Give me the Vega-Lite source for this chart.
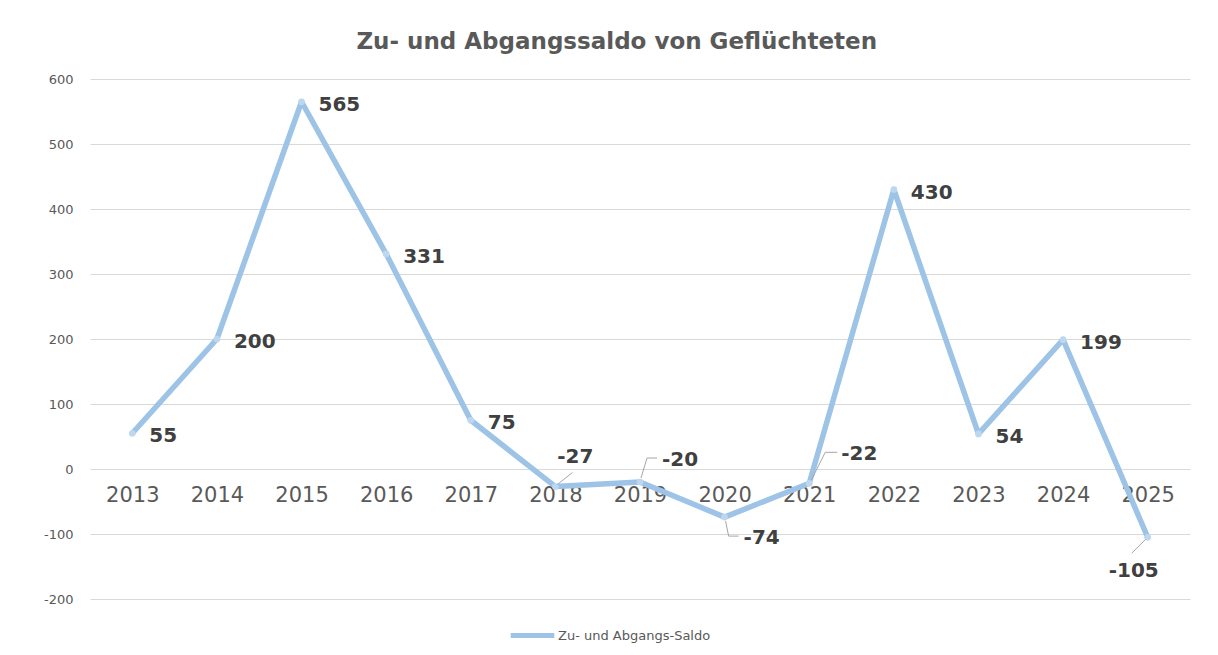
{
  "$schema": "https://vega.github.io/schema/vega-lite/v6.json",
  "width": 1100,
  "height": 520,
  "autosize": {"type": "none"},
  "padding": {"left": 90, "top": 79, "right": 28, "bottom": 56},
  "background": "white",
  "title": {
    "text": "Zu- und Abgangssaldo von Geflüchteten",
    "font": "DejaVu Sans",
    "fontSize": 23,
    "fontWeight": "bold",
    "color": "#595959",
    "anchor": "middle",
    "frame": "bounds",
    "offset": 19
  },
  "data": {
    "values": [
      {"year": "2013", "value": 55, "series": "Zu- und Abgangs-Saldo"},
      {"year": "2014", "value": 200, "series": "Zu- und Abgangs-Saldo"},
      {"year": "2015", "value": 565, "series": "Zu- und Abgangs-Saldo"},
      {"year": "2016", "value": 331, "series": "Zu- und Abgangs-Saldo"},
      {"year": "2017", "value": 75, "series": "Zu- und Abgangs-Saldo"},
      {"year": "2018", "value": -27, "series": "Zu- und Abgangs-Saldo"},
      {"year": "2019", "value": -20, "series": "Zu- und Abgangs-Saldo"},
      {"year": "2020", "value": -74, "series": "Zu- und Abgangs-Saldo"},
      {"year": "2021", "value": -22, "series": "Zu- und Abgangs-Saldo"},
      {"year": "2022", "value": 430, "series": "Zu- und Abgangs-Saldo"},
      {"year": "2023", "value": 54, "series": "Zu- und Abgangs-Saldo"},
      {"year": "2024", "value": 199, "series": "Zu- und Abgangs-Saldo"},
      {"year": "2025", "value": -105, "series": "Zu- und Abgangs-Saldo"}
    ]
  },
  "encoding": {
    "x": {
      "field": "year",
      "type": "ordinal",
      "scale": {"type": "point", "padding": 0.5},
      "axis": {
        "title": null,
        "orient": "bottom",
        "offset": -130,
        "domain": false,
        "ticks": false,
        "grid": false,
        "labelAngle": 0,
        "labelFont": "DejaVu Sans",
        "labelFontSize": 21,
        "labelColor": "#595959",
        "labelPadding": 15
      }
    },
    "y": {
      "field": "value",
      "type": "quantitative",
      "scale": {"domain": [-200, 600], "nice": false, "zero": false},
      "axis": {
        "title": null,
        "values": [-200, -100, 0, 100, 200, 300, 400, 500, 600],
        "labelExpr": "toString(datum.value)",
        "domain": false,
        "ticks": false,
        "grid": true,
        "gridColor": "#D9D9D9",
        "gridWidth": 1,
        "labelFont": "DejaVu Sans",
        "labelFontSize": 13,
        "labelColor": "#595959",
        "labelPadding": 17
      }
    }
  },
  "layer": [
    {
      "mark": {"type": "line", "strokeWidth": 5.5, "strokeCap": "round", "strokeJoin": "round"},
      "encoding": {
        "color": {
          "field": "series",
          "type": "nominal",
          "scale": {"range": ["#9DC3E6"]},
          "legend": {
            "title": null,
            "orient": "none",
            "legendX": 418,
            "legendY": 532,
            "symbolType": "stroke",
            "symbolStrokeWidth": 5,
            "symbolSize": 1900,
            "symbolStrokeColor": "#9DC3E6",
            "labelFont": "DejaVu Sans",
            "labelFontSize": 13,
            "labelColor": "#595959",
            "labelOffset": 1,
            "padding": 0
          }
        }
      }
    },
    {
      "mark": {"type": "point", "filled": true, "size": 45, "color": "#BDD7EE", "opacity": 1}
    },
    {
      "transform": [{"filter": "datum.year == '2018'"}],
      "mark": {"type": "rule", "color": "#A6A6A6", "strokeWidth": 1, "xOffset": 2, "yOffset": -2, "x2Offset": 17, "y2Offset": -14},
      "encoding": {"x2": {"field": "year"}, "y2": {"field": "value"}}
    },
    {
      "transform": [{"filter": "datum.year == '2019'"}],
      "mark": {"type": "rule", "color": "#A6A6A6", "strokeWidth": 1, "xOffset": 1, "yOffset": -4, "x2Offset": 7, "y2Offset": -24},
      "encoding": {"x2": {"field": "year"}, "y2": {"field": "value"}}
    },
    {
      "transform": [{"filter": "datum.year == '2019'"}],
      "mark": {"type": "rule", "color": "#A6A6A6", "strokeWidth": 1, "xOffset": 7, "yOffset": -24, "x2Offset": 17, "y2Offset": -24},
      "encoding": {"x2": {"field": "year"}, "y2": {"field": "value"}}
    },
    {
      "transform": [{"filter": "datum.year == '2020'"}],
      "mark": {"type": "rule", "color": "#A6A6A6", "strokeWidth": 1, "xOffset": 1, "yOffset": 4, "x2Offset": 4, "y2Offset": 19},
      "encoding": {"x2": {"field": "year"}, "y2": {"field": "value"}}
    },
    {
      "transform": [{"filter": "datum.year == '2020'"}],
      "mark": {"type": "rule", "color": "#A6A6A6", "strokeWidth": 1, "xOffset": 4, "yOffset": 19, "x2Offset": 14, "y2Offset": 19},
      "encoding": {"x2": {"field": "year"}, "y2": {"field": "value"}}
    },
    {
      "transform": [{"filter": "datum.year == '2021'"}],
      "mark": {"type": "rule", "color": "#A6A6A6", "strokeWidth": 1, "xOffset": 2, "yOffset": -3, "x2Offset": 16, "y2Offset": -31},
      "encoding": {"x2": {"field": "year"}, "y2": {"field": "value"}}
    },
    {
      "transform": [{"filter": "datum.year == '2021'"}],
      "mark": {"type": "rule", "color": "#A6A6A6", "strokeWidth": 1, "xOffset": 16, "yOffset": -31, "x2Offset": 28, "y2Offset": -31},
      "encoding": {"x2": {"field": "year"}, "y2": {"field": "value"}}
    },
    {
      "transform": [{"filter": "datum.year == '2025'"}],
      "mark": {"type": "rule", "color": "#A6A6A6", "strokeWidth": 1, "xOffset": -2, "yOffset": 2, "x2Offset": -16, "y2Offset": 16},
      "encoding": {"x2": {"field": "year"}, "y2": {"field": "value"}}
    },
    {
      "transform": [{"filter": "indexof(['2013','2014','2015','2016','2017','2022','2023','2024'], datum.year) >= 0"}],
      "mark": {"type": "text", "align": "left", "baseline": "middle", "dx": 17, "dy": 3, "font": "DejaVu Sans", "fontSize": 20, "fontWeight": "bold", "color": "#404040"},
      "encoding": {"text": {"field": "value", "type": "nominal"}}
    },
    {
      "transform": [{"filter": "datum.year == '2018'"}],
      "mark": {"type": "text", "align": "center", "baseline": "middle", "dx": 20, "dy": -30, "font": "DejaVu Sans", "fontSize": 20, "fontWeight": "bold", "color": "#404040"},
      "encoding": {"text": {"field": "value", "type": "nominal"}}
    },
    {
      "transform": [{"filter": "datum.year == '2019'"}],
      "mark": {"type": "text", "align": "left", "baseline": "middle", "dx": 22, "dy": -22, "font": "DejaVu Sans", "fontSize": 20, "fontWeight": "bold", "color": "#404040"},
      "encoding": {"text": {"field": "value", "type": "nominal"}}
    },
    {
      "transform": [{"filter": "datum.year == '2020'"}],
      "mark": {"type": "text", "align": "left", "baseline": "middle", "dx": 19, "dy": 21, "font": "DejaVu Sans", "fontSize": 20, "fontWeight": "bold", "color": "#404040"},
      "encoding": {"text": {"field": "value", "type": "nominal"}}
    },
    {
      "transform": [{"filter": "datum.year == '2021'"}],
      "mark": {"type": "text", "align": "left", "baseline": "middle", "dx": 32, "dy": -29, "font": "DejaVu Sans", "fontSize": 20, "fontWeight": "bold", "color": "#404040"},
      "encoding": {"text": {"field": "value", "type": "nominal"}}
    },
    {
      "transform": [{"filter": "datum.year == '2025'"}],
      "mark": {"type": "text", "align": "center", "baseline": "middle", "dx": -14, "dy": 34, "font": "DejaVu Sans", "fontSize": 20, "fontWeight": "bold", "color": "#404040"},
      "encoding": {"text": {"field": "value", "type": "nominal"}}
    }
  ],
  "config": {"view": {"stroke": null}}
}
